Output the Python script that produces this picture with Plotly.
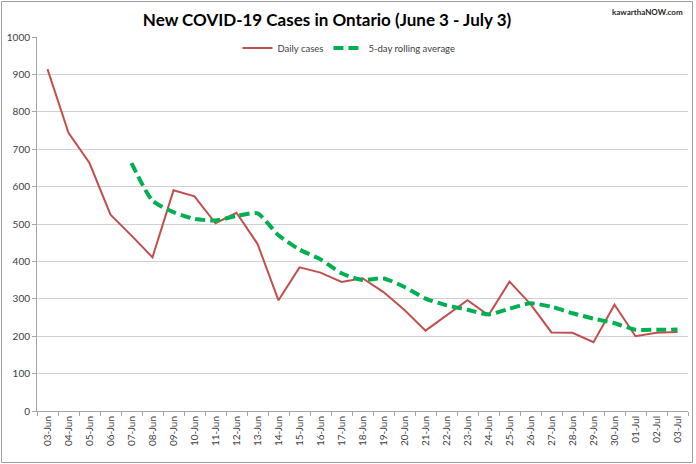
import plotly.graph_objects as go

dates = ["03-Jun","04-Jun","05-Jun","06-Jun","07-Jun","08-Jun","09-Jun","10-Jun","11-Jun","12-Jun",
         "13-Jun","14-Jun","15-Jun","16-Jun","17-Jun","18-Jun","19-Jun","20-Jun","21-Jun","22-Jun",
         "23-Jun","24-Jun","25-Jun","26-Jun","27-Jun","28-Jun","29-Jun","30-Jun","01-Jul","02-Jul","03-Jul"]
daily_cases = [914, 744, 663, 525, 469, 411, 590, 574, 502, 530,
               447, 296, 384, 370, 345, 355, 318, 270, 215, 255,
               296, 256, 346, 286, 210, 209, 184, 284, 200, 209, 211]
rolling_avg = [None, None, None, None, 663.0, 562.4, 531.6, 513.8, 509.2, 521.4,
               528.6, 469.8, 431.8, 405.4, 368.4, 350.0, 354.4, 331.6, 300.6, 282.6,
               270.8, 258.4, 273.6, 287.8, 278.8, 261.4, 247.0, 234.6, 217.4, 217.2, 217.6]
y_ticks = [0, 100, 200, 300, 400, 500, 600, 700, 800, 900, 1000]

FONT = "Lato, 'Open Sans', sans-serif"

fig = go.Figure()
fig.add_trace(go.Scatter(x=dates, y=daily_cases, mode="lines", name="Daily cases",
                         line=dict(color="#c0504d", width=2)))
fig.add_trace(go.Scatter(x=dates, y=rolling_avg, mode="lines", name="5-day rolling average",
                         line=dict(color="#00b050", width=4, dash="10px,5px", shape="spline", smoothing=0.6)))

fig.update_layout(
    width=696, height=464,
    margin=dict(l=37, r=8, t=37, b=53),
    paper_bgcolor="white", plot_bgcolor="white",
    font=dict(family=FONT, color="#595959", size=10),
    title=dict(text="<b>New COVID-19 Cases in Ontario (June 3 - July 3)</b>",
               x=327/696, xanchor="center", y=1-20/464, yanchor="middle",
               font=dict(family=FONT, size=17, color="#000000")),
    legend=dict(orientation="h", x=(349-37)/651, xanchor="center", y=(411-48)/374, yanchor="middle",
                font=dict(family=FONT, size=9.5, color="#404040"), bgcolor="rgba(0,0,0,0)",
                itemwidth=30),
    xaxis=dict(type="category", tickson="boundaries", ticks="outside", ticklen=4, tickcolor="#a6a6a6",
               showline=True, linecolor="#a6a6a6", linewidth=1, showgrid=False,
               tickangle=-90, tickfont=dict(size=10, color="#404040"), range=[-0.5, 30.5]),
    yaxis=dict(range=[0, 1000], tickvals=y_ticks, ticks="outside", ticklen=4, tickcolor="#a6a6a6",
               showline=True, linecolor="#a6a6a6", linewidth=1,
               gridcolor="#d0d0d0", gridwidth=1, zeroline=False,
               tickfont=dict(size=10, color="#404040")),
    showlegend=True,
)

# outer frame
fig.add_shape(type="rect", xref="paper", yref="paper",
              x0=(1.5-37)/651, x1=(692.5-37)/651, y0=(411-462.5)/374, y1=(411-1.5)/374,
              line=dict(color="#a0a0a0", width=1), fillcolor="rgba(0,0,0,0)", layer="below")

fig.add_annotation(text="<b>kawarthaNOW.com</b>", xref="paper", yref="paper",
                   x=(685-37)/651, xanchor="right", y=(411-12)/374, yanchor="middle",
                   showarrow=False, font=dict(family=FONT, size=8, color="#262626"))

fig.write_html("out.html", config={"displayModeBar": False},
               post_script="document.body.style.margin='0';document.body.style.padding='0';")
